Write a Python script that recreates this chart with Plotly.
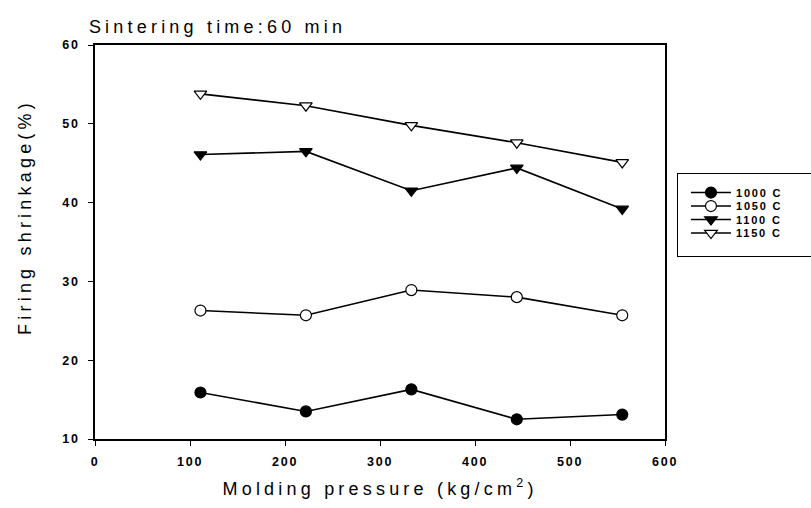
import plotly.graph_objects as go

pressure = [111, 222, 333, 444, 555]
s1000 = [15.9, 13.5, 16.3, 12.5, 13.1]
s1050 = [26.3, 25.7, 28.9, 28.0, 25.7]
s1100 = [46.1, 46.5, 41.5, 44.4, 39.2]
s1150 = [53.8, 52.3, 49.8, 47.6, 45.1]
series_names = ["1000 C", "1050 C", "1100 C", "1150 C"]
x_ticks = [0, 100, 200, 300, 400, 500, 600]
y_ticks = [10, 20, 30, 40, 50, 60]

styles = [
    dict(symbol="circle", color="black", line=dict(color="black", width=1.2)),
    dict(symbol="circle", color="white", line=dict(color="black", width=1.2)),
    dict(symbol="triangle-down", color="black", line=dict(color="black", width=1.2)),
    dict(symbol="triangle-down", color="white", line=dict(color="black", width=1.2)),
]

fig = go.Figure()
for name, vals, st in zip(series_names, [s1000, s1050, s1100, s1150], styles):
    fig.add_trace(go.Scatter(
        x=pressure, y=vals, name=name, mode="lines+markers",
        line=dict(color="black", width=1.6),
        marker=dict(size=11, **st),
    ))

FONT = "Liberation Sans, Arial, sans-serif"
fig.update_layout(
    width=811, height=508,
    margin=dict(l=95, r=146, t=45, b=69),
    paper_bgcolor="white", plot_bgcolor="white",
    font=dict(family=FONT, color="black"),
    showlegend=True,
    legend=dict(
        x=1.021, y=0.675, xanchor="left", yanchor="top",
        bordercolor="black", borderwidth=1, bgcolor="white",
        font=dict(size=11, family=FONT, weight="bold"),
        tracegroupgap=0, itemwidth=40,
    ),
    xaxis=dict(
        range=[0, 600], tickvals=x_ticks, ticktext=[str(t) for t in x_ticks],
        ticks="outside", ticklen=5, tickwidth=1, tickcolor="black",
        showline=True, linecolor="black", linewidth=1.5, mirror=True,
        showgrid=False, zeroline=False,
        tickfont=dict(size=12.5, weight="bold"), ticklabelstandoff=5,
    ),
    yaxis=dict(
        range=[10, 60], tickvals=y_ticks, ticktext=[str(t) for t in y_ticks],
        ticks="outside", ticklen=5, tickwidth=1, tickcolor="black",
        showline=True, linecolor="black", linewidth=1.5, mirror=True,
        showgrid=False, zeroline=False,
        tickfont=dict(size=12.5, weight="bold"), ticklabelstandoff=6,
    ),
    annotations=[
        dict(text="Sintering time:60 min", xref="paper", yref="paper",
             x=(217 - 95) / 570, y=1.0, xanchor="center", yanchor="bottom", yshift=6,
             showarrow=False, font=dict(size=18)),
        dict(text="Firing shrinkage(%)", xref="paper", yref="paper",
             x=(25 - 95) / 570, y=(439 - 217) / 394, xanchor="center", yanchor="middle",
             textangle=-90, showarrow=False, font=dict(size=18)),
        dict(text="Molding pressure (kg/cm<sup>2</sup>)", xref="paper", yref="paper",
             x=0.5, y=-0.09, xanchor="center", yanchor="top",
             showarrow=False, font=dict(size=18)),
    ],
)

post = """
var gd = document.getElementById('{plot_id}');
function spacing(){
  gd.querySelectorAll('.annotation-text').forEach(function(e){e.style.letterSpacing='4.2px';});
  gd.querySelectorAll('g.xtick text, g.ytick text, text.xtick, text.ytick').forEach(function(e){e.style.letterSpacing='1.8px';});
  gd.querySelectorAll('.legendtext').forEach(function(e){e.style.letterSpacing='1.8px';});
  var items = gd.querySelectorAll('.legend .traces');
  var base = null;
  items.forEach(function(el, i){
    if(!el.dataset.y0){
      var m = /translate\\(([^,]+),\\s*([^)]+)\\)/.exec(el.getAttribute('transform') || '');
      el.dataset.x0 = m ? m[1] : '0';
      el.dataset.y0 = m ? m[2] : '0';
    }
    if(base === null) base = parseFloat(el.dataset.y0);
    var nx = parseFloat(el.dataset.x0) + 8;
    var ny = base + 4 + 13.5 * i;
    el.setAttribute('transform', 'translate(' + nx + ',' + ny + ')');
  });
  gd.querySelectorAll('.legend rect.bg').forEach(function(r){ r.setAttribute('width', 140); r.setAttribute('height', 83); });
  gd.querySelectorAll('clipPath[id*="legend"] rect').forEach(function(r){ r.setAttribute('width', 140); });
}
spacing();
gd.on('plotly_afterplot', spacing);
"""

fig.write_html("out.html", post_script=post)
